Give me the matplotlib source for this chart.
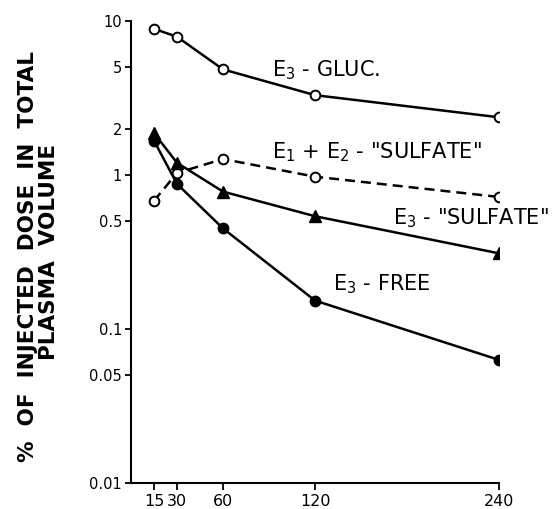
import matplotlib.pyplot as plt

plt.rcParams['font.family'] = ['DejaVu Sans']
plt.rcParams['mathtext.fontset'] = 'dejavusans'

# sampling times (min) and % of injected dose in total plasma volume
times = [15, 30, 60, 120, 240]
e3_gluc = [8.9, 7.9, 4.85, 3.3, 2.37]
e1e2_sulfate = [0.68, 1.03, 1.27, 0.975, 0.72]
e3_sulfate = [1.87, 1.2, 0.78, 0.54, 0.31]
e3_free = [1.67, 0.875, 0.45, 0.153, 0.063]

y_ticks = [0.01, 0.05, 0.1, 0.5, 1, 2, 5, 10]
y_tick_labels = ['0.01', '0.05', '0.1', '0.5', '1', '2', '5', '10']

fig = plt.figure(figsize=(5.56, 5.09), dpi=100)
ax = fig.add_axes([131 / 556, 1 - 483 / 509, 368 / 556, 462 / 509])

lw = 1.8
ax.plot(times, e3_gluc, '-', color='black', lw=lw, marker='o', ms=7,
        mfc='white', mec='black', mew=1.4, zorder=3)
ax.plot(times, e1e2_sulfate, color='black', lw=lw, dashes=(4, 2.4), marker='o', ms=7,
        mfc='white', mec='black', mew=1.4, zorder=3)
ax.plot(times, e3_sulfate, '-', color='black', lw=lw, marker='^', ms=8,
        mfc='black', mec='black', zorder=3)
ax.plot(times, e3_free, '-', color='black', lw=lw, marker='o', ms=7.5,
        mfc='black', mec='black', zorder=3)

ax.set_yscale('log')
ax.set_ylim(0.01, 10)
ax.set_xlim(0, 240)
ax.set_yticks(y_ticks)
ax.set_yticklabels(y_tick_labels)
ax.yaxis.set_minor_locator(plt.NullLocator())
ax.set_xticks(times)
ax.set_xticklabels([str(t) for t in times])

for side in ['top', 'right']:
    ax.spines[side].set_visible(False)
for side in ['left', 'bottom']:
    ax.spines[side].set_linewidth(1.5)
ax.tick_params(axis='y', direction='out', length=4.5, width=1.3, labelsize=10.5, pad=2)
ax.tick_params(axis='x', direction='out', length=5, width=1.3, labelsize=11.5, pad=3)

# curve labels
txt = dict(fontsize=15, ha='left', va='baseline', color='black')
ax.text(91.8, 4.35, r'E$_3$ - GLUC.', **txt)
ax.text(92.0, 1.29, r'E$_1$ + E$_2$ - "SULFATE"', **txt)
ax.text(170.9, 0.481, r'E$_3$ - "SULFATE"', **txt)
ax.text(131.7, 0.179, r'E$_3$ - FREE', **txt)

# two-line y label (wide word spacing as in the original lettering)
fig.text(34 / 556, 1 - 257 / 509, '%  OF  INJECTED  DOSE  IN  TOTAL', rotation=90,
         rotation_mode='anchor', ha='center', va='baseline',
         fontsize=15.5, fontweight='bold')
fig.text(55.5 / 556, 1 - 252 / 509, 'PLASMA  VOLUME', rotation=90,
         rotation_mode='anchor', ha='center', va='baseline',
         fontsize=15.5, fontweight='bold')

fig.savefig('out.png', dpi=100)
